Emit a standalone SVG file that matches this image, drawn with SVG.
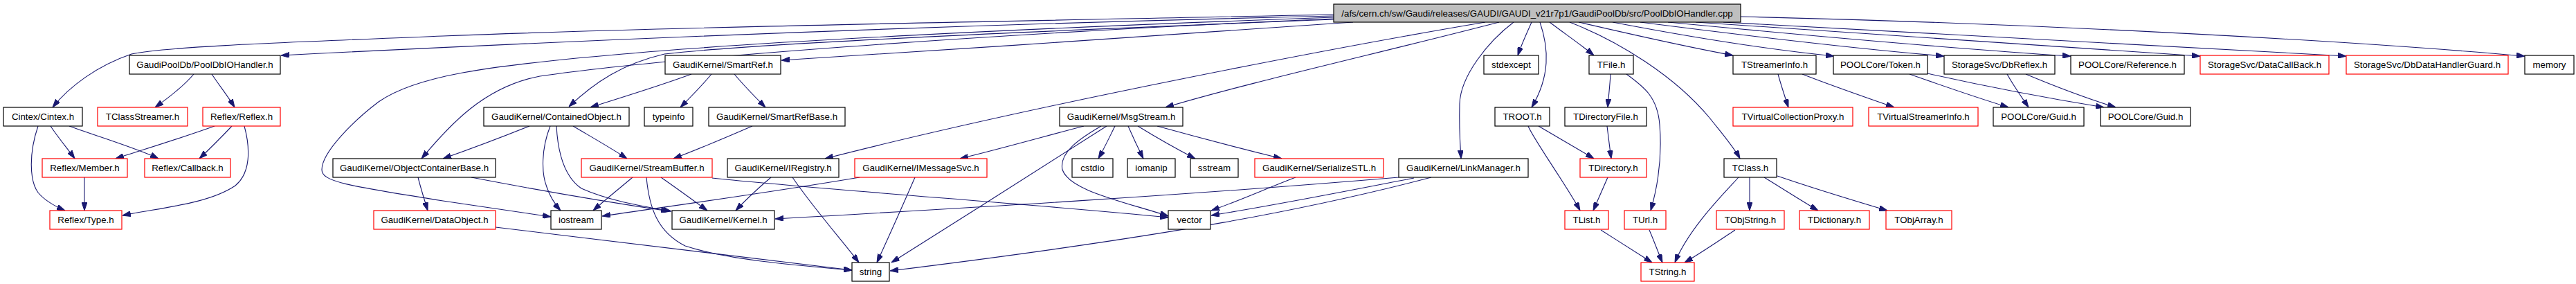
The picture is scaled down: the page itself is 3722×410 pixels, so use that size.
<svg xmlns="http://www.w3.org/2000/svg" width="3722" height="410" viewBox="0 0 3722 410">
<defs>
<marker id="ah" markerWidth="12" markerHeight="8" refX="12" refY="4" orient="auto" markerUnits="userSpaceOnUse"><path d="M0,0 L12,4 L0,8 z" fill="#191970" stroke="#191970" stroke-width="1"/></marker>
</defs>
<style>
rect{fill:#fff;stroke:#000;stroke-width:1.2}
.r rect{stroke:#f00}
.m rect{fill:#bfbfbf}
text{font-family:"Liberation Sans",Arial,sans-serif;font-size:13.3px;fill:#000;text-anchor:middle}
#edges path{fill:none;stroke:#191970;stroke-width:1.1;marker-end:url(#ah)}
</style>
<rect x="0" y="0" width="3722" height="410" style="fill:#fff;stroke:none"/>
<g id="edges">
<path d="M1927,21 C1500,30 1000,38 640,52 C450,60 250,66 190,78 C140,95 100,125 76,155"/>
<path d="M1927,23 C1400,35 900,55 406,80"/>
<path d="M1927,25 C1500,40 1100,60 900,78 C700,95 600,110 547,147 C510,175 465,220 465,245 C465,262 500,268 640,290 L796,313"/>
<path d="M1927,27 C1400,50 950,85 780,110 C700,125 650,180 609,229"/>
<path d="M1927,28 C1500,45 1100,62 960,78 C900,92 860,118 822,154"/>
<path d="M1955,32 C1700,50 1400,70 1129,87"/>
<path d="M2146,32 C1950,65 1500,150 1192,229"/>
<path d="M2166,32 C2000,75 1800,120 1684,155"/>
<path d="M2187,32 C2150,60 2110,110 2109,150 C2108,190 2110,210 2111,229"/>
<path d="M2213,32 C2205,50 2198,65 2193,80"/>
<path d="M2225,32 C2238,70 2240,110 2213,155"/>
<path d="M2239,32 C2260,48 2285,65 2303,80"/>
<path d="M2268,32 C2340,60 2420,110 2470,170 C2490,195 2505,212 2514,229"/>
<path d="M2281,32 C2380,55 2450,70 2504,80"/>
<path d="M2330,32 C2450,55 2560,72 2650,81"/>
<path d="M2370,32 C2550,55 2700,72 2809,81"/>
<path d="M2410,32 C2650,55 2850,72 2992,81"/>
<path d="M2450,32 C2750,52 3000,70 3179,81"/>
<path d="M2490,32 C2850,50 3150,68 3390,81"/>
<path d="M2515,24 C2900,33 3350,55 3648,81"/>
<path d="M280,107 C265,125 245,140 224,155"/>
<path d="M306,107 C318,125 330,140 339,155"/>
<path d="M73,182 C85,200 98,215 108,229"/>
<path d="M100,182 C150,200 200,215 229,229"/>
<path d="M55,182 C42,220 42,260 55,278 C65,290 80,298 94,304"/>
<path d="M310,182 C260,200 210,215 167,229"/>
<path d="M335,182 C318,200 303,215 288,229"/>
<path d="M353,182 C362,215 362,250 340,268 C300,295 230,300 177,311"/>
<path d="M122,256 L122,304"/>
<path d="M999,107 C950,125 900,140 853,155"/>
<path d="M1028,107 C1013,125 998,140 983,155"/>
<path d="M1061,107 C1076,125 1091,140 1106,155"/>
<path d="M765,182 C720,200 680,215 640,229"/>
<path d="M795,182 C782,215 782,250 790,270 C795,285 802,295 810,304"/>
<path d="M804,182 C806,220 815,255 840,272 C880,290 930,298 970,305"/>
<path d="M828,182 C855,198 885,215 906,229"/>
<path d="M1087,182 C1050,198 1010,215 973,229"/>
<path d="M604,256 C608,272 613,288 618,304"/>
<path d="M681,256 C780,275 880,292 967,305"/>
<path d="M716,328 C900,350 1100,375 1231,390"/>
<path d="M914,256 C895,272 875,288 857,304"/>
<path d="M955,256 C978,272 1000,288 1022,304"/>
<path d="M934,256 C938,300 950,335 990,355 C1050,375 1150,383 1231,390"/>
<path d="M1029,257 C1200,275 1500,295 1688,314"/>
<path d="M1114,256 C1095,272 1078,288 1063,304"/>
<path d="M1145,256 C1175,300 1215,345 1241,379"/>
<path d="M1242,256 C1100,280 950,300 870,312"/>
<path d="M1322,256 C1305,295 1285,340 1267,379"/>
<path d="M1566,182 C1505,198 1445,215 1387,229"/>
<path d="M1599,182 C1500,245 1390,315 1288,379"/>
<path d="M1591,182 C1560,200 1530,220 1535,245 C1545,275 1620,290 1688,312"/>
<path d="M1611,182 C1603,198 1595,215 1587,229"/>
<path d="M1630,182 C1637,198 1645,215 1652,229"/>
<path d="M1644,182 C1670,198 1700,215 1727,229"/>
<path d="M1672,182 C1730,198 1795,215 1852,229"/>
<path d="M1872,256 C1830,272 1790,290 1750,304"/>
<path d="M2021,256 C1700,283 1400,300 1120,316"/>
<path d="M2043,257 C1950,275 1850,295 1750,311"/>
<path d="M2068,256 C1900,300 1700,340 1286,391"/>
<path d="M2327,107 C2326,125 2324,140 2323,155"/>
<path d="M2350,107 C2375,125 2395,140 2398,180 C2402,230 2395,270 2385,304"/>
<path d="M2223,182 C2250,198 2280,215 2303,229"/>
<path d="M2208,182 C2215,200 2265,270 2283,304"/>
<path d="M2322,182 C2324,198 2326,215 2328,229"/>
<path d="M2323,256 C2316,272 2309,288 2302,304"/>
<path d="M2313,332 C2338,348 2365,365 2387,379"/>
<path d="M2383,332 C2390,348 2396,365 2402,379"/>
<path d="M2512,256 C2490,280 2440,330 2420,379"/>
<path d="M2528,256 L2528,304"/>
<path d="M2549,256 C2575,272 2600,288 2627,304"/>
<path d="M2568,254 C2620,272 2680,290 2727,304"/>
<path d="M2507,332 C2483,348 2458,365 2434,379"/>
<path d="M2569,107 C2574,125 2579,140 2584,155"/>
<path d="M2604,107 C2650,125 2700,142 2737,155"/>
<path d="M2759,107 C2810,125 2860,142 2902,155"/>
<path d="M2785,106 C2870,125 2960,142 3040,155"/>
<path d="M2900,107 C2910,125 2921,140 2931,155"/>
<path d="M2927,107 C2970,125 3015,142 3057,155"/>
</g>
<g id="n_main" class="m"><rect x="1927" y="6" width="588" height="26"/><text x="2221" y="24">/afs/cern.ch/sw/Gaudi/releases/GAUDI/GAUDI_v21r7p1/GaudiPoolDb/src/PoolDbIOHandler.cpp</text></g>
<g id="n_pdbh"><rect x="187" y="80" width="218" height="27"/><text x="296" y="98">GaudiPoolDb/PoolDbIOHandler.h</text></g>
<g id="n_smartref"><rect x="961" y="80" width="167" height="27"/><text x="1044.5" y="98">GaudiKernel/SmartRef.h</text></g>
<g id="n_stdexcept"><rect x="2144" y="80" width="79" height="27"/><text x="2183.5" y="98">stdexcept</text></g>
<g id="n_tfile"><rect x="2296" y="80" width="64" height="27"/><text x="2328" y="98">TFile.h</text></g>
<g id="n_tstreamerinfo"><rect x="2504" y="80" width="120" height="27"/><text x="2564" y="98">TStreamerInfo.h</text></g>
<g id="n_token"><rect x="2649" y="80" width="136" height="27"/><text x="2717" y="98">POOLCore/Token.h</text></g>
<g id="n_dbreflex"><rect x="2809" y="80" width="160" height="27"/><text x="2889" y="98">StorageSvc/DbReflex.h</text></g>
<g id="n_reference"><rect x="2992" y="80" width="164" height="27"/><text x="3074" y="98">POOLCore/Reference.h</text></g>
<g id="n_datacallback" class="r"><rect x="3179" y="80" width="186" height="27"/><text x="3272" y="98">StorageSvc/DataCallBack.h</text></g>
<g id="n_guard" class="r"><rect x="3390" y="80" width="234" height="27"/><text x="3507" y="98">StorageSvc/DbDataHandlerGuard.h</text></g>
<g id="n_memory"><rect x="3648" y="80" width="71" height="27"/><text x="3683.5" y="98">memory</text></g>
<g id="n_cintex"><rect x="5" y="155" width="114" height="27"/><text x="62" y="173">Cintex/Cintex.h</text></g>
<g id="n_tclassstreamer" class="r"><rect x="141" y="155" width="130" height="27"/><text x="206" y="173">TClassStreamer.h</text></g>
<g id="n_reflex" class="r"><rect x="293" y="155" width="112" height="27"/><text x="349" y="173">Reflex/Reflex.h</text></g>
<g id="n_contained"><rect x="699" y="155" width="210" height="27"/><text x="804" y="173">GaudiKernel/ContainedObject.h</text></g>
<g id="n_typeinfo"><rect x="931" y="155" width="70" height="27"/><text x="966" y="173">typeinfo</text></g>
<g id="n_smartrefbase"><rect x="1024" y="155" width="197" height="27"/><text x="1122.5" y="173">GaudiKernel/SmartRefBase.h</text></g>
<g id="n_msgstream"><rect x="1531" y="155" width="178" height="27"/><text x="1620" y="173">GaudiKernel/MsgStream.h</text></g>
<g id="n_troot"><rect x="2160" y="155" width="79" height="27"/><text x="2199.5" y="173">TROOT.h</text></g>
<g id="n_tdirfile"><rect x="2261" y="155" width="118" height="27"/><text x="2320" y="173">TDirectoryFile.h</text></g>
<g id="n_tvcp" class="r"><rect x="2504" y="155" width="173" height="27"/><text x="2590.5" y="173">TVirtualCollectionProxy.h</text></g>
<g id="n_tvsi" class="r"><rect x="2700" y="155" width="158" height="27"/><text x="2779" y="173">TVirtualStreamerInfo.h</text></g>
<g id="n_guid1"><rect x="2880" y="155" width="131" height="27"/><text x="2945.5" y="173">POOLCore/Guid.h</text></g>
<g id="n_guid2"><rect x="3035" y="155" width="130" height="27"/><text x="3100" y="173">POOLCore/Guid.h</text></g>
<g id="n_member" class="r"><rect x="61" y="229" width="123" height="27"/><text x="122.5" y="247">Reflex/Member.h</text></g>
<g id="n_callback" class="r"><rect x="209" y="229" width="124" height="27"/><text x="271" y="247">Reflex/Callback.h</text></g>
<g id="n_ocb"><rect x="481" y="229" width="235" height="27"/><text x="598.5" y="247">GaudiKernel/ObjectContainerBase.h</text></g>
<g id="n_streambuffer" class="r"><rect x="840" y="229" width="189" height="27"/><text x="934.5" y="247">GaudiKernel/StreamBuffer.h</text></g>
<g id="n_iregistry"><rect x="1051" y="229" width="161" height="27"/><text x="1131.5" y="247">GaudiKernel/IRegistry.h</text></g>
<g id="n_imessagesvc" class="r"><rect x="1235" y="229" width="191" height="27"/><text x="1330.5" y="247">GaudiKernel/IMessageSvc.h</text></g>
<g id="n_cstdio"><rect x="1549" y="229" width="59" height="27"/><text x="1578.5" y="247">cstdio</text></g>
<g id="n_iomanip"><rect x="1629" y="229" width="69" height="27"/><text x="1663.5" y="247">iomanip</text></g>
<g id="n_sstream"><rect x="1720" y="229" width="69" height="27"/><text x="1754.5" y="247">sstream</text></g>
<g id="n_serializestl" class="r"><rect x="1813" y="229" width="186" height="27"/><text x="1906" y="247">GaudiKernel/SerializeSTL.h</text></g>
<g id="n_linkmanager"><rect x="2021" y="229" width="187" height="27"/><text x="2114.5" y="247">GaudiKernel/LinkManager.h</text></g>
<g id="n_tdirectory" class="r"><rect x="2283" y="229" width="96" height="27"/><text x="2331" y="247">TDirectory.h</text></g>
<g id="n_tclass"><rect x="2491" y="229" width="76" height="27"/><text x="2529" y="247">TClass.h</text></g>
<g id="n_type" class="r"><rect x="72" y="304" width="104" height="27"/><text x="124" y="322">Reflex/Type.h</text></g>
<g id="n_dataobject" class="r"><rect x="540" y="304" width="176" height="27"/><text x="628" y="322">GaudiKernel/DataObject.h</text></g>
<g id="n_iostream"><rect x="796" y="304" width="73" height="27"/><text x="832.5" y="322">iostream</text></g>
<g id="n_kernel"><rect x="971" y="304" width="148" height="27"/><text x="1045" y="322">GaudiKernel/Kernel.h</text></g>
<g id="n_vector"><rect x="1688" y="304" width="61" height="27"/><text x="1718.5" y="322">vector</text></g>
<g id="n_tlist" class="r"><rect x="2261" y="304" width="63" height="27"/><text x="2292.5" y="322">TList.h</text></g>
<g id="n_turl" class="r"><rect x="2347" y="304" width="60" height="27"/><text x="2377" y="322">TUrl.h</text></g>
<g id="n_tobjstring" class="r"><rect x="2480" y="304" width="98" height="27"/><text x="2529" y="322">TObjString.h</text></g>
<g id="n_tdictionary" class="r"><rect x="2600" y="304" width="101" height="27"/><text x="2650.5" y="322">TDictionary.h</text></g>
<g id="n_tobjarray" class="r"><rect x="2725" y="304" width="95" height="27"/><text x="2772.5" y="322">TObjArray.h</text></g>
<g id="n_string"><rect x="1231" y="379" width="54" height="27"/><text x="1258" y="397">string</text></g>
<g id="n_tstring" class="r"><rect x="2371" y="379" width="77" height="27"/><text x="2409.5" y="397">TString.h</text></g>
</svg>
